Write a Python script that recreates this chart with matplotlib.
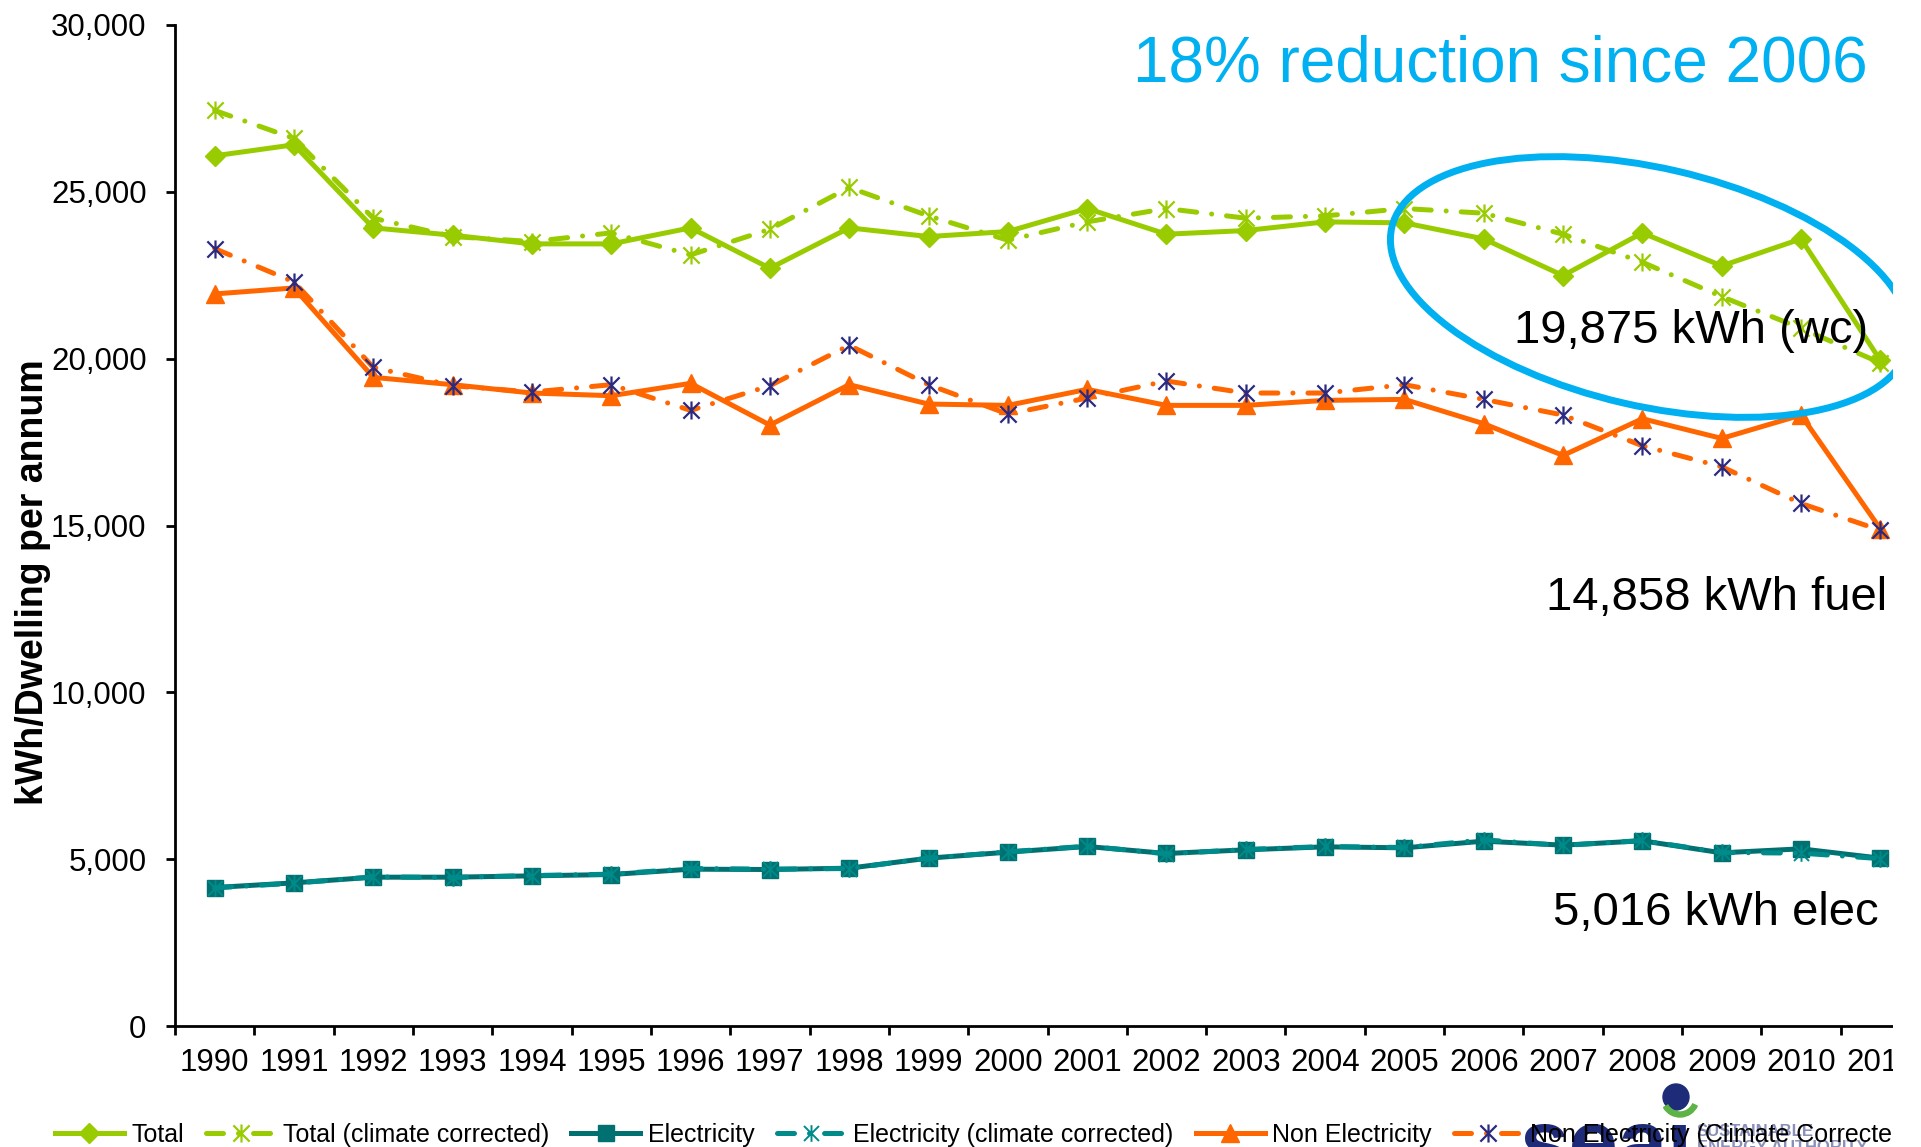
import numpy as np
import matplotlib
matplotlib.use("Agg")
import matplotlib.pyplot as plt
from matplotlib.path import Path
from matplotlib.patches import Ellipse, Rectangle, Circle, Wedge
from matplotlib.ticker import FuncFormatter

# ---- data: kWh per dwelling per annum ----
years = list(range(1990, 2012))
total = [26080, 26410, 23920, 23700, 23440, 23440, 23920, 22710, 23920, 23660, 23810,
         24500, 23730, 23840, 24100, 24070, 23590, 22490, 23770, 22780, 23590, 19950]
total_cc = [27440, 26600, 24210, 23660, 23510, 23770, 23110, 23880, 25130, 24280, 23550,
            24100, 24500, 24210, 24280, 24500, 24360, 23730, 22890, 21860, 20910, 19875]
elec = [4150, 4290, 4460, 4460, 4500, 4540, 4700, 4690, 4730, 5030, 5210,
        5380, 5170, 5280, 5370, 5340, 5540, 5420, 5550, 5190, 5310, 5030]
elec_cc = [4140, 4280, 4470, 4450, 4510, 4550, 4720, 4700, 4720, 5030, 5220,
           5390, 5160, 5290, 5380, 5350, 5580, 5410, 5560, 5200, 5180, 5016]
fuel = [21940, 22120, 19440, 19220, 18970, 18890, 19260, 18010, 19220, 18640, 18600,
        19080, 18600, 18600, 18750, 18780, 18050, 17100, 18200, 17610, 18310, 14900]
fuel_cc = [23300, 22300, 19740, 19190, 19000, 19220, 18450, 19190, 20400, 19220, 18340,
           18820, 19330, 18970, 18970, 19220, 18780, 18310, 17390, 16760, 15660, 14858]

series_labels = ["Total", "Total (climate corrected)", "Electricity",
                 "Electricity (climate corrected)", "Non Electricity",
                 "Non Electricity (Climate Corrected)"]

GREEN = "#99CC00"
ORANGE = "#FF6600"
TEAL = "#007070"
TEAL_CC = "#008B8B"
NAVY = "#2B2A80"
SKY = "#00B0F0"

plt.rcParams["font.family"] = ["Liberation Sans", "DejaVu Sans"]

W, H = 1921, 1147
fig = plt.figure(figsize=(W / 100, H / 100), dpi=100)
fig.patch.set_facecolor("white")

# plot area in pixel units
px_left, px_right, px_top, px_bottom = 175, 1920, 25, 1026
ax = fig.add_axes([px_left / W, 1 - px_bottom / H,
                   (px_right - px_left) / W, (px_bottom - px_top) / H])

# asterisk marker: an X crossed by a vertical bar
star = Path([(-0.9, -0.9), (0.9, 0.9), (-0.9, 0.9), (0.9, -0.9), (0, -1), (0, 1)],
            [Path.MOVETO, Path.LINETO, Path.MOVETO, Path.LINETO, Path.MOVETO, Path.LINETO])

lw = 3.6
long_dash_dot = (3.4, 3.0, 0.01, 3.0)

ax.plot(years, total, color=GREEN, lw=lw, marker="D", ms=10.5, mfc=GREEN, mec=GREEN,
        label=series_labels[0], clip_on=False, zorder=3)
ax.plot(years, total_cc, color=GREEN, lw=lw, dashes=long_dash_dot, dash_capstyle="round",
        marker=star, ms=13, mfc="none", mec=GREEN, mew=1.6,
        label=series_labels[1], clip_on=False, zorder=3)
ax.plot(years, elec, color=TEAL, lw=lw, marker="s", ms=12, mfc=TEAL, mec=TEAL,
        label=series_labels[2], clip_on=False, zorder=3)
ax.plot(years, elec_cc, color=TEAL_CC, lw=lw, dashes=long_dash_dot, dash_capstyle="round",
        marker=star, ms=12, mfc="none", mec=TEAL_CC, mew=1.4,
        label=series_labels[3], clip_on=False, zorder=3)
ax.plot(years, fuel, color=ORANGE, lw=lw, marker="^", ms=13.5, mfc=ORANGE, mec=ORANGE,
        label=series_labels[4], clip_on=False, zorder=3)
ax.plot(years, fuel_cc, color=ORANGE, lw=lw, dashes=long_dash_dot, dash_capstyle="round",
        marker=star, ms=13, mfc="none", mec=NAVY, mew=1.6,
        label=series_labels[5], clip_on=False, zorder=3)

ax.set_xlim(1989.5, 2011.5)
ax.set_ylim(0, 30000)
ax.set_yticks(np.arange(0, 30001, 5000))
ax.yaxis.set_major_formatter(FuncFormatter(lambda v, p: f"{int(v):,}"))
ax.set_xticks(years)
ax.set_xticklabels([str(y) for y in years])
ax.set_xticks(np.arange(1989.5, 2012, 1.0), minor=True)

for side in ("top", "right"):
    ax.spines[side].set_visible(False)
for side in ("left", "bottom"):
    ax.spines[side].set_linewidth(2.0)
    ax.spines[side].set_color("black")

ax.tick_params(axis="x", which="major", length=0, pad=16, labelsize=22.5)
ax.tick_params(axis="x", which="minor", length=6.5, width=2, direction="out")
ax.tick_params(axis="y", which="major", length=6.5, width=2, direction="out",
               pad=14, labelsize=22.5)
ax.set_facecolor("white")

# overlay in figure pixel coordinates for annotations, legend and logo
ov = fig.add_axes([0, 0, 1, 1])
ov.set_xlim(0, W)
ov.set_ylim(H, 0)
ov.axis("off")

ov.text(33, 582, "kWh/Dwelling per annum", rotation=90, ha="center", va="center",
        fontsize=27, fontweight="bold", color="black")

ov.text(1133, 64, "18% reduction since 2006", ha="left", va="center",
        fontsize=46, color=SKY, zorder=4)
ov.add_patch(Ellipse((1650, 287), 530, 238, angle=13, fill=False,
                     edgecolor=SKY, lw=5, zorder=4))
ov.text(1514, 331, "19,875 kWh (wc)", ha="left", va="center", fontsize=34, zorder=4)
ov.text(1546, 598, "14,858 kWh fuel", ha="left", va="center", fontsize=34, zorder=4)
ov.text(1553, 913, "5,016 kWh elec", ha="left", va="center", fontsize=34, zorder=4)

# SEAI logo, partly hidden below the bottom edge
LOGO = "#1E2B78"
ov.text(1520, 1172, "sea\u0131", ha="left", va="baseline", fontsize=64,
        fontweight="bold", color=LOGO, zorder=2)
ov.add_patch(Circle((1676, 1097), 13, color=LOGO, zorder=2))
ov.add_patch(Wedge((1680, 1098), 19, 25, 150, width=5, color="#5DB346", zorder=2))
ov.text(1697, 1131, "SUSTAINABLE", ha="left", va="center", fontsize=12,
        fontweight="bold", color="#8A90B8", zorder=2)
ov.text(1697, 1148, "ENERGY AUTHORITY", ha="left", va="center", fontsize=12,
        fontweight="bold", color="#8A90B8", zorder=2)

handles, labels = ax.get_legend_handles_labels()
leg = ov.legend(handles, labels, loc="center left",
                bbox_to_anchor=(55 / W, 1 - 1135 / H), bbox_transform=fig.transFigure,
                ncol=6, frameon=False, fontsize=18, handlelength=2.75,
                handletextpad=0.3, columnspacing=0.9, borderpad=0, borderaxespad=0,
                numpoints=1)
leg.set_zorder(5)

# right-hand margin
ov.add_patch(Rectangle((1893, 0), W - 1893, H, facecolor="white", edgecolor="none",
                       zorder=100, clip_on=False))

fig.savefig("out.png", dpi=100, facecolor="white")
